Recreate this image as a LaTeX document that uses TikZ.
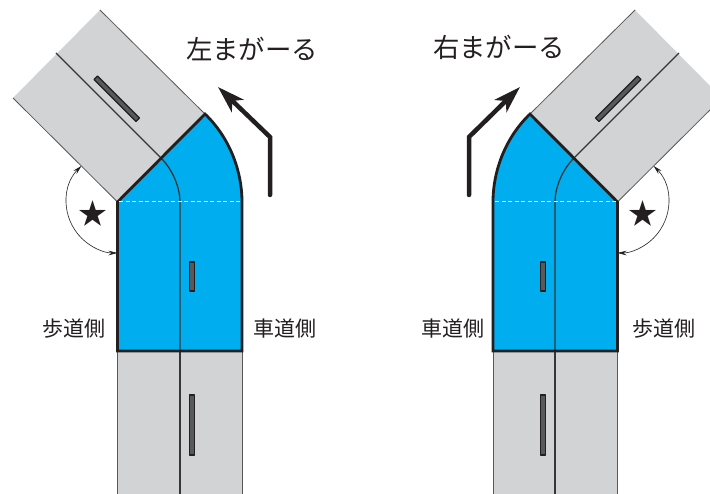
\documentclass[tikz,border=0pt]{standalone}
\usepackage{fontspec}
\usetikzlibrary{positioning,calc,arrows.meta}
\newfontfamily\jpfont{Noto Sans CJK JP}
\definecolor{roadgray}{HTML}{D1D3D4}
\definecolor{bendblue}{HTML}{00AEEF}
\definecolor{inkline}{HTML}{231F20}
\definecolor{barfill}{HTML}{58595B}
\tikzset{
  roadedge/.style={draw=inkline!75,line width=.8pt},
  midline/.style={draw=inkline!90,line width=1.3pt},
  bendedge/.style={draw=inkline,line width=2.8pt},
  midbar/.style={draw=inkline,fill=barfill,line width=1.2pt,line join=round},
  turnarrow/.style={draw=inkline,line width=4.5pt,line cap=round,line join=miter,
    -{Stealth[length=27pt,width=17pt,inset=7pt]}},
  anglearc/.style={draw=inkline,line width=.6pt,
    {Stealth[length=9pt,width=4.5pt]}-{Stealth[length=9pt,width=4.5pt]}},
  bigtext/.style={font=\jpfont\fontsize{26.4}{27}\selectfont,text=inkline,inner sep=0pt},
  sidetext/.style={font=\jpfont\fontsize{21}{21}\selectfont,text=inkline,inner sep=0pt},
}
% One bend with its roads, drawn for the left turn and mirrored for the right
\newcommand*{\roadbend}{%
  % Gray road going away from the bend
  \fill[roadgray] (117.5,202) -- (205,114) -- (100,10) -- (13,98) -- cycle;
  \draw[roadedge] (117.5,202) -- (13,98);
  \draw[roadedge] (205,114) -- (100,10);
  \draw[midline] (161,158) -- (56,53);
  \draw[midbar] (97.5,76) -- (139.5,118) -- (136,121.5) -- (94,79.5) -- cycle;
  % Gray road below the bend
  \fill[roadgray] (117.5,351) rectangle (242,494);
  \draw[roadedge] (117.5,351) -- (117.5,494);
  \draw[roadedge] (242,351) -- (242,494);
  \draw[midline] (180,351) -- (180,494);
  \draw[midbar] (189.7,395) rectangle (194.5,455);
  % Blue bend
  \fill[bendblue] (117.5,351) -- (117.5,202) -- (205,114)
    .. controls (229,137) and (242,170) .. (242,202) -- (242,351) -- cycle;
  \draw[midline] (180,351) -- (180,202) .. controls (180,188) and (173,170) .. (161,158);
  \draw[bendedge,line join=miter] (205,114) .. controls (229,137) and (242,170) .. (242,202)
    -- (242,351) -- (117.5,351) -- (117.5,202) -- cycle;
  \draw[midbar] (189.7,262) rectangle (194.5,291);
  % Dashed line where the curve starts
  \draw[white,line width=1pt,dash pattern=on 4pt off 2.5pt] (119,202) -- (241,202);
  % Angle at the inner corner
  \draw[anglearc] (117.5,202) ++(225:51) arc[start angle=225,end angle=90,radius=51];
}

\begin{document}
\begin{tikzpicture}[x=1pt,y=-1pt]
\useasboundingbox (0,0) rectangle (710,494);
\clip (0,0) rectangle (710,494);
% Left turn
\roadbend
% Right turn
\begin{scope}[xshift=735pt,xscale=-1]
  \roadbend
\end{scope}
% Arrows along the turns
\coordinate (ltail) at (270,195);
\coordinate (lknee) at (270,137);
\coordinate (lhead) at (218,87);
\draw[turnarrow] (ltail) -- (lknee) -- (lhead);
\coordinate (rtail) at (469,195);
\coordinate (rknee) at (469,137);
\coordinate (rhead) at (520,87);
\draw[turnarrow] (rtail) -- (rknee) -- (rhead);
% Titles
\node[bigtext] (ltitle) at (252,49) {左まがーる};
\node[bigtext] (rtitle) at (499,47) {右まがーる};
% Stars in the corners
\node[bigtext,font=\jpfont\fontsize{29}{29}\selectfont] (lstar) at (93,214) {★};
\node[bigtext,font=\jpfont\fontsize{29}{29}\selectfont] (rstar) at (643,214) {★};
% Side labels
\node[sidetext] (lwalk) at (74,329) {歩道側};
\node[sidetext] (lroad) at (285,329) {車道側};
\node[sidetext] (rroad) at (453,329) {車道側};
\node[sidetext] (rwalk) at (664,329) {歩道側};
\end{tikzpicture}
\end{document}
